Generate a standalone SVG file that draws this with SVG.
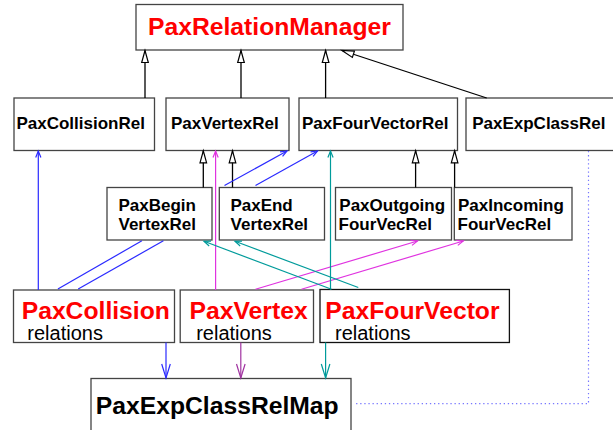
<svg xmlns="http://www.w3.org/2000/svg" width="613" height="430" viewBox="0 0 613 430">
<style>
.box{fill:#fff;stroke:#444;stroke-width:1.3}
.big{font-family:"Liberation Sans",Arial,sans-serif;font-weight:bold;font-size:24.7px;fill:#ff0000}
.mid{font-family:"Liberation Sans",Arial,sans-serif;font-weight:bold;font-size:17px;fill:#000}
.rel{font-family:"Liberation Sans",Arial,sans-serif;font-size:20px;fill:#000}
.inh{stroke:#000;stroke-width:1.3;fill:none;marker-end:url(#tri)}
.b{stroke:#2a2aff;stroke-width:1.2;fill:none}
.m{stroke:#e033e0;stroke-width:1.2;fill:none}
.p{stroke:#a033a0;stroke-width:1.2;fill:none}
.t{stroke:#009b9b;stroke-width:1.2;fill:none}
</style>
<defs>
<marker id="tri" markerUnits="userSpaceOnUse" markerWidth="20" markerHeight="20" orient="auto" refX="0" refY="0" overflow="visible"><path d="M0,0 L-12,-3.3 L-12,3.3 Z" fill="#fff" stroke="#000" stroke-width="1.2"/></marker>
<marker id="ab" markerUnits="userSpaceOnUse" markerWidth="20" markerHeight="20" orient="auto" overflow="visible"><path d="M-6.5,-2.6 L0,0 L-6.5,2.6" fill="none" stroke="#2a2aff" stroke-width="1.2"/></marker>
<marker id="am" markerUnits="userSpaceOnUse" markerWidth="20" markerHeight="20" orient="auto" overflow="visible"><path d="M-6.5,-2.6 L0,0 L-6.5,2.6" fill="none" stroke="#e033e0" stroke-width="1.2"/></marker>
<marker id="at" markerUnits="userSpaceOnUse" markerWidth="20" markerHeight="20" orient="auto" overflow="visible"><path d="M-6.5,-2.6 L0,0 L-6.5,2.6" fill="none" stroke="#009b9b" stroke-width="1.2"/></marker>
<marker id="db" markerUnits="userSpaceOnUse" markerWidth="20" markerHeight="20" orient="auto" overflow="visible"><path d="M-14,-4.3 L0,0 L-14,4.3" fill="none" stroke="#2a2aff" stroke-width="1.2"/></marker>
<marker id="dp" markerUnits="userSpaceOnUse" markerWidth="20" markerHeight="20" orient="auto" overflow="visible"><path d="M-14,-4.3 L0,0 L-14,4.3" fill="none" stroke="#a033a0" stroke-width="1.2"/></marker>
<marker id="dt" markerUnits="userSpaceOnUse" markerWidth="20" markerHeight="20" orient="auto" overflow="visible"><path d="M-14,-4.3 L0,0 L-14,4.3" fill="none" stroke="#009b9b" stroke-width="1.2"/></marker>
</defs>
<rect width="613" height="430" fill="#fff"/>

<g id="PaxRelationManager"><rect class="box" x="136" y="4.5" width="267" height="45.5"/><text class="big" x="148" y="35">PaxRelationManager</text></g>

<g id="PaxCollisionRel"><rect class="box" x="14" y="98" width="140.5" height="52.5"/><text class="mid" x="16.4" y="129">PaxCollisionRel</text></g>
<g id="PaxVertexRel"><rect class="box" x="166" y="98" width="123" height="52.5"/><text class="mid" x="171" y="129">PaxVertexRel</text></g>
<g id="PaxFourVectorRel"><rect class="box" x="299" y="98" width="158.5" height="52.5"/><text class="mid" x="302" y="129">PaxFourVectorRel</text></g>
<g id="PaxExpClassRel"><rect class="box" x="466" y="98" width="160" height="52.5"/><text class="mid" x="472.2" y="129">PaxExpClassRel</text></g>

<g id="PaxBeginVertexRel"><rect class="box" x="107" y="187.5" width="105" height="52.5"/><text class="mid" x="118.5" y="210.5">PaxBegin</text><text class="mid" x="118.5" y="229.5">VertexRel</text></g>
<g id="PaxEndVertexRel"><rect class="box" x="219.3" y="187.5" width="105.2" height="52.5"/><text class="mid" x="230.4" y="210.5">PaxEnd</text><text class="mid" x="230.6" y="229.5">VertexRel</text></g>
<g id="PaxOutgoingFourVecRel"><rect class="box" x="335.5" y="187.5" width="116" height="52.5"/><text class="mid" x="339.3" y="210.5">PaxOutgoing</text><text class="mid" x="338.5" y="229.5">FourVecRel</text></g>
<g id="PaxIncomingFourVecRel"><rect class="box" x="454.3" y="187.5" width="117.7" height="52.5"/><text class="mid" x="458" y="210.5">PaxIncoming</text><text class="mid" x="457.6" y="229.5">FourVecRel</text></g>

<g id="PaxCollisionRelations"><rect class="box" x="13.5" y="290" width="161" height="52.5"/><text class="big" x="21.7" y="319">PaxCollision</text><text class="rel" x="27.3" y="340">relations</text></g>
<g id="PaxVertexRelations"><rect class="box" x="180.2" y="290" width="133.3" height="52.5"/><text class="big" x="189.6" y="319">PaxVertex</text><text class="rel" x="196.2" y="340">relations</text></g>
<g id="PaxFourVectorRelations"><rect class="box" x="320" y="289.5" width="189.4" height="53" style="stroke:#111"/><text class="big" x="325.3" y="319">PaxFourVector</text><text class="rel" x="335" y="340">relations</text></g>

<g id="PaxExpClassRelMap"><rect class="box" x="91" y="378.5" width="260" height="60"/><text class="big" x="95.8" y="414.3" style="fill:#000">PaxExpClassRelMap</text></g>

<g id="connectors">
<line class="inh" x1="145" y1="98" x2="145" y2="50.5"/>
<line class="inh" x1="241" y1="98" x2="241" y2="50.5"/>
<line class="inh" x1="325.6" y1="98" x2="325.6" y2="50.5"/>
<line class="inh" x1="486.7" y1="98" x2="342" y2="50.5"/>
<line class="inh" x1="203.3" y1="187.5" x2="203.3" y2="150.8"/>
<line class="inh" x1="232.5" y1="187.5" x2="232.5" y2="150.8"/>
<line class="inh" x1="415.6" y1="187.5" x2="415.6" y2="150.8"/>
<line class="inh" x1="454.6" y1="187.5" x2="454.6" y2="150.8"/>

<line class="b" x1="38.3" y1="290" x2="38.3" y2="151" marker-end="url(#ab)"/>
<line class="b" x1="57.9" y1="289" x2="141.9" y2="240.8"/>
<line class="b" x1="78.2" y1="289" x2="163.4" y2="240.8"/>
<line class="b" x1="224.5" y1="185.5" x2="287" y2="151" marker-end="url(#ab)"/>
<line class="b" x1="255.5" y1="185.5" x2="317.5" y2="151" marker-end="url(#ab)"/>
<line class="b" x1="166" y1="342.5" x2="166" y2="378" marker-end="url(#db)"/>

<line class="m" x1="215.6" y1="290" x2="215.6" y2="151" marker-end="url(#am)"/>
<line class="m" x1="255.5" y1="289.3" x2="417.5" y2="241" marker-end="url(#am)"/>
<line class="m" x1="301.5" y1="289.3" x2="463.3" y2="241" marker-end="url(#am)"/>
<line class="p" x1="240.8" y1="342.5" x2="240.8" y2="378" marker-end="url(#dp)"/>

<line class="t" x1="330.5" y1="289.5" x2="330.5" y2="151" marker-end="url(#at)"/>
<line class="t" x1="331.5" y1="289.3" x2="204" y2="241.3" marker-end="url(#at)"/>
<line class="t" x1="358.3" y1="287.5" x2="235" y2="241.3" marker-end="url(#at)"/>
<line class="t" x1="325.6" y1="342.5" x2="325.6" y2="378" marker-end="url(#dt)"/>

<path d="M588.5,151 V403.7 H355.5" fill="none" stroke="#7777ff" stroke-width="1.2" stroke-dasharray="1.3 2.8"/>
</g>
</svg>
